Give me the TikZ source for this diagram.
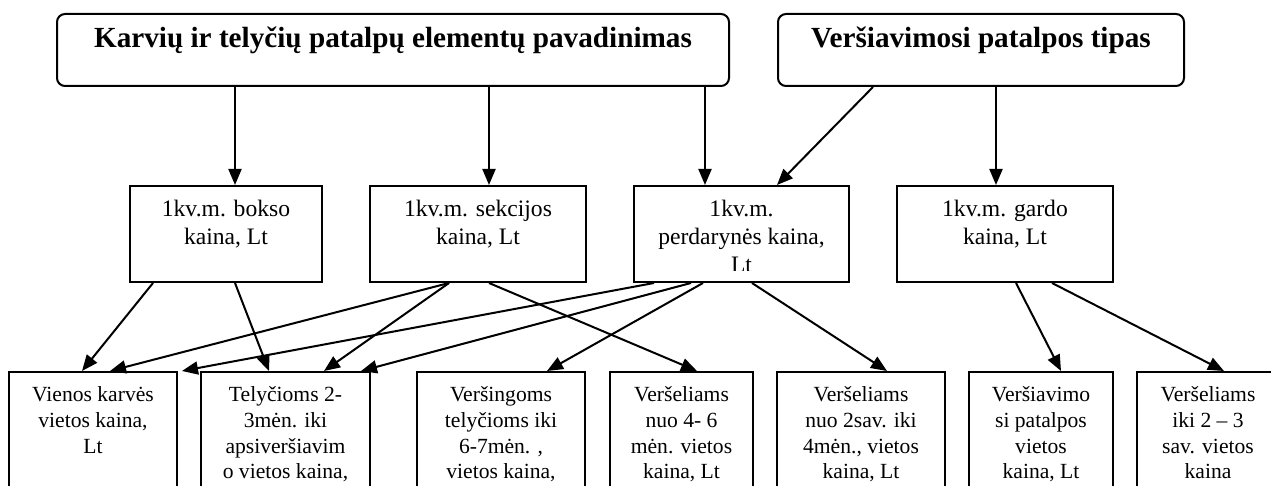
\documentclass[tikz,border=0pt]{standalone}
\usepackage{fontspec}
\setmainfont{Liberation Serif}
\usetikzlibrary{arrows.meta,calc}
\begin{document}
\begin{tikzpicture}[x=0.5pt,y=-0.5pt,
  topbox/.style={draw, line width=1pt, rounded corners=4pt, inner sep=0pt, anchor=north west, minimum height=36pt},
  midbox/.style={draw, line width=1pt, inner sep=0pt, anchor=north west, minimum height=48pt},
  lowbox/.style={draw, line width=1pt, inner sep=0pt, anchor=north west, minimum height=64.5pt},
  toptext/.style={font=\bfseries\fontsize{14.6}{17}\selectfont, anchor=base, inner sep=0pt},
  midtext/.style={font=\fontsize{11.8}{13.8}\selectfont, anchor=base, inner sep=0pt},
  lowtext/.style={font=\fontsize{10.8}{12.8}\selectfont, anchor=base, inner sep=0pt},
  link/.style={line width=1pt, -{Triangle[length=8pt,width=6.5pt]}},
]
\useasboundingbox (0,0) rectangle (1271,486);
\clip (0,0) rectangle (1271,486);

% top row
\node[topbox, minimum width=336pt] (t1) at (56,13) {};
\node[topbox, minimum width=203pt] (t2) at (777,13) {};
\node[toptext] (t1txt) at ($(t1.north)+(0,35)$) {Karvių ir telyčių patalpų elementų pavadinimas};
\node[toptext] (t2txt) at ($(t2.north)+(0,35)$) {Veršiavimosi patalpos tipas};

% middle row
\node[midbox, minimum width=96pt]    (m1) at (129,185) {};
\node[midbox, minimum width=108pt]   (m2) at (369,185) {};
\node[midbox, minimum width=107.5pt] (m3) at (633,185) {};
\node[midbox, minimum width=108pt]   (m4) at (896,185) {};
\node[midtext] (m1txt) at ($(m1.north)+(0,32)$) {\parbox[t]{96pt}{\centering 1kv.m. bokso\\kaina, Lt}};
\node[midtext] (m2txt) at ($(m2.north)+(0,32)$) {\parbox[t]{108pt}{\centering 1kv.m. sekcijos\\kaina, Lt}};
\begin{scope}
  \clip (m3.north west) rectangle ($(m3.south east)+(0,-12)$);
  \node[midtext] (m3txt) at ($(m3.north)+(0,32)$) {\parbox[t]{107.5pt}{\centering 1kv.m.\\perdarynės kaina,\\Lt}};
\end{scope}
\node[midtext] (m4txt) at ($(m4.north)+(0,32)$) {\parbox[t]{108pt}{\centering 1kv.m. gardo\\kaina, Lt}};

% bottom row
\node[lowbox, minimum width=84pt]   (b1) at (8,371) {};
\node[lowbox, minimum width=84.5pt] (b2) at (200,371) {};
\node[lowbox, minimum width=84pt]   (b3) at (416,371) {};
\node[lowbox, minimum width=71.5pt] (b4) at (609,371) {};
\node[lowbox, minimum width=84pt]   (b5) at (776,371) {};
\node[lowbox, minimum width=72pt]   (b6) at (968,371) {};
\node[lowbox, minimum width=71pt]   (b7) at (1136,371) {};
\node[lowtext] (b1txt) at ($(b1.north)+(0,31)$) {\parbox[t]{84pt}{\centering Vienos karvės\\vietos kaina,\\Lt}};
\node[lowtext] (b2txt) at ($(b2.north)+(0,31)$) {\parbox[t]{84.5pt}{\centering Telyčioms 2-\\3mėn. iki\\apsiveršiavim\\o vietos kaina,}};
\node[lowtext] (b3txt) at ($(b3.north)+(0,31)$) {\parbox[t]{84pt}{\centering Veršingoms\\telyčioms iki\\6-7mėn. ,\\vietos kaina,}};
\node[lowtext] (b4txt) at ($(b4.north)+(0,31)$) {\parbox[t]{71.5pt}{\centering Veršeliams\\nuo 4- 6\\mėn. vietos\\kaina, Lt}};
\node[lowtext] (b5txt) at ($(b5.north)+(0,31)$) {\parbox[t]{84pt}{\centering Veršeliams\\nuo 2sav. iki\\4mėn., vietos\\kaina, Lt}};
\node[lowtext] (b6txt) at ($(b6.north)+(0,31)$) {\parbox[t]{72pt}{\centering Veršiavimo\\si patalpos\\vietos\\kaina, Lt}};
\node[lowtext] (b7txt) at ($(b7.north)+(0,31)$) {\parbox[t]{71pt}{\centering Veršeliams\\iki 2 – 3\\sav. vietos\\kaina}};

% top row to middle row
\draw[link] ($(t1.south west)+(179,0)$) -- ($(m1.north west)+(106,0)$);
\draw[link] ($(t1.south west)+(433,0)$) -- ($(m2.north west)+(120,0)$);
\draw[link] ($(t1.south west)+(649,0)$) -- ($(m3.north west)+(72,0)$);
\draw[link] ($(t2.south west)+(96,0)$)  -- ($(m3.north west)+(144,0)$);
\draw[link] ($(t2.south west)+(219,0)$) -- ($(m4.north west)+(100,0)$);

% middle row to bottom row
\draw[link] ($(m1.south west)+(24,0)$)  -- ($(b1.north west)+(74,0)$);
\draw[link] ($(m1.south west)+(106,0)$) -- ($(b2.north west)+(69,0)$);
\draw[link] ($(m2.south west)+(80,0)$)  -- ($(b1.north west)+(102,0)$);
\draw[link] ($(m2.south west)+(80,0)$)  -- ($(b2.north west)+(124,0)$);
\draw[link] ($(m2.south west)+(120,0)$) -- ($(b4.north west)+(88,0)$);
\draw[link] ($(m3.south west)+(21,0)$)  -- ($(b1.north east)+(4,0)$);
\draw[link] ($(m3.south west)+(58,0)$)  -- ($(b2.north west)+(161,0)$);
\draw[link] ($(m3.south west)+(70,0)$)  -- ($(b3.north west)+(131,0)$);
\draw[link] ($(m3.south west)+(119,0)$) -- ($(b5.north west)+(111,0)$);
\draw[link] ($(m4.south west)+(120,0)$) -- ($(b6.north west)+(93,0)$);
\draw[link] ($(m4.south west)+(156,0)$) -- ($(b7.north west)+(88,0)$);
\end{tikzpicture}
\end{document}
